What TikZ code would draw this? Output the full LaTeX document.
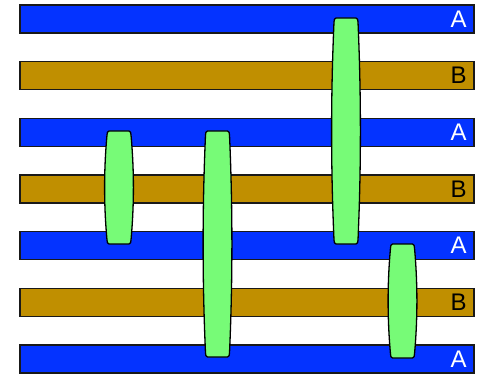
\documentclass[tikz,border=0pt]{standalone}
\usepackage{fontspec}
\setmainfont{Liberation Sans}
\definecolor{barA}{HTML}{0433FF}
\definecolor{barB}{HTML}{C08F00}
\definecolor{capsfill}{HTML}{77FB77}
\newcommand{\capsule}[3]{% center x, top y, bottom y
  \draw[caps] (#1-10,#2) -- (#1+10,#2)
    .. controls (#1+11.6,#2) and (#1+11.9,#2+2) .. (#1+12,#2+4)
    .. controls (#1+15.2,{#2+4+(#3-#2-8)/3}) and (#1+15.2,{#3-4-(#3-#2-8)/3}) .. (#1+12,#3-4)
    .. controls (#1+11.9,#3-2) and (#1+11.6,#3) .. (#1+10,#3)
    -- (#1-10,#3)
    .. controls (#1-11.6,#3) and (#1-11.9,#3-2) .. (#1-12,#3-4)
    .. controls (#1-15.2,{#3-4-(#3-#2-8)/3}) and (#1-15.2,{#2+4+(#3-#2-8)/3}) .. (#1-12,#2+4)
    .. controls (#1-11.9,#2+2) and (#1-11.6,#2) .. (#1-10,#2) -- cycle;}
\begin{document}
\begin{tikzpicture}[x=1pt,y=-1pt,
  bar/.style={draw=black!90,line width=1.5pt},
  caps/.style={draw=black,line width=1.3pt,fill=capsfill},
  lblA/.style={text=white,font=\fontsize{24}{28}\selectfont,inner sep=0pt},
  lblB/.style={text=black,font=\fontsize{24}{28}\selectfont,inner sep=0pt}]
\useasboundingbox (0,0) rectangle (484,374);
\foreach \i/\c in {0/barA,1/barB,2/barA,3/barB,4/barA,5/barB,6/barA}{
  \draw[bar,fill=\c] (20,{5+56.67*\i}) rectangle (474,{33+56.67*\i});
}
\node[lblA] (a1) at (458.5,19) {A};
\node[lblB] (b1) at (458.5,75.7) {B};
\node[lblA] (a2) at (458.5,132.3) {A};
\node[lblB] (b2) at (458.5,189) {B};
\node[lblA] (a3) at (458.5,245.7) {A};
\node[lblB] (b3) at (458.5,302.3) {B};
\node[lblA] (a4) at (458.5,359) {A};
\capsule{346}{18}{244}
\capsule{119}{131}{244}
\capsule{217.5}{131}{357}
\capsule{402.5}{244}{358}
\end{tikzpicture}
\end{document}
